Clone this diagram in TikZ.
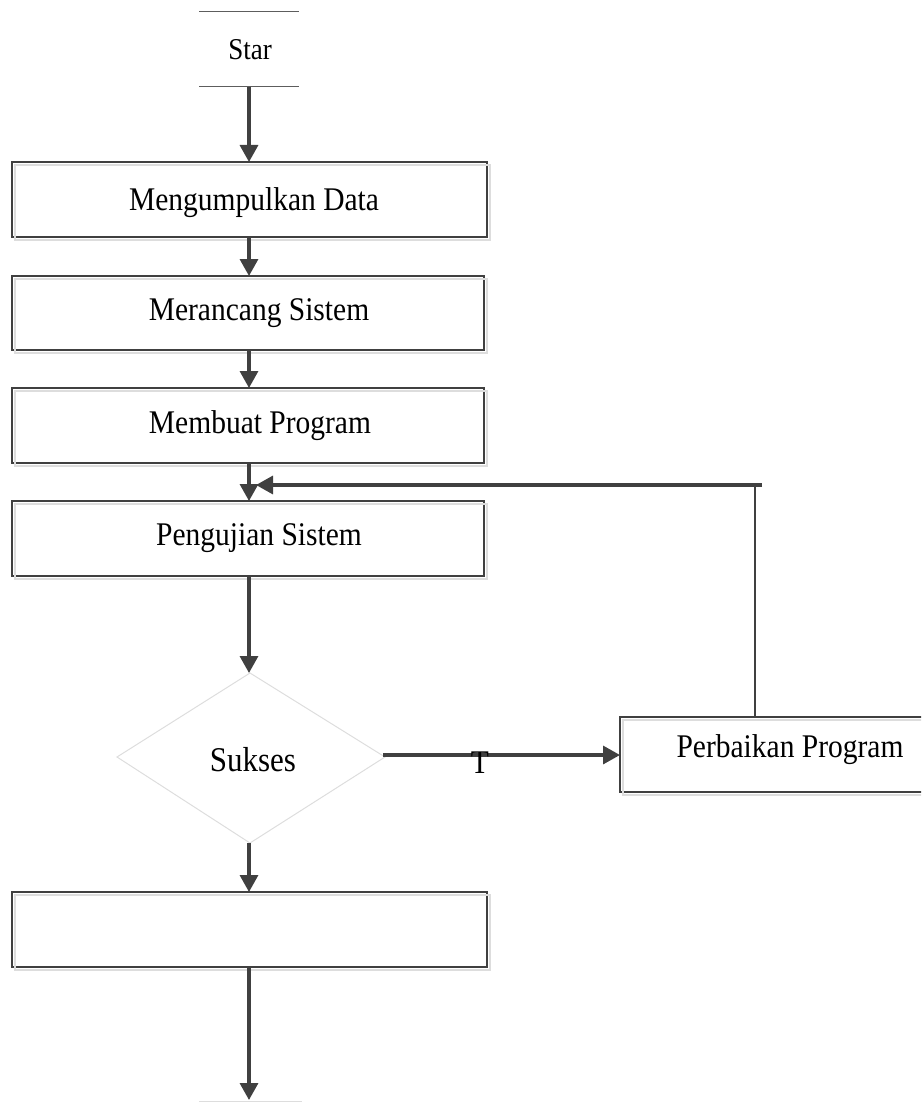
\documentclass[tikz,border=0pt]{standalone}
\usepackage{fontspec}
\setmainfont{Liberation Serif}
\usetikzlibrary{arrows.meta,calc}
\definecolor{ln}{HTML}{404040}
\definecolor{sh}{HTML}{DDDDDD}
\newcommand{\tstr}[1]{\scalebox{1}[1.12]{#1}}
\tikzset{
  boxnode/.style={draw=ln,line width=1.6pt,rectangle,inner sep=0pt,outer sep=0pt},
  shline/.style={draw=sh,line width=1.3pt},
  txt/.style={font=\fontsize{29.5}{36}\selectfont,inner sep=0pt},
  flow/.style={draw=ln,line width=3.3pt,-{Triangle[length=17pt,width=18pt]}},
  thinln/.style={draw=ln,line width=1.6pt},
}
\begin{document}
\begin{tikzpicture}[x=1pt,y=-1pt]
\useasboundingbox (0,0) rectangle (921,1102);
\clip (0,0) rectangle (921,1102);
% start terminal
\coordinate (st1) at (199,11.7);
\coordinate (st2) at (299,11.7);
\coordinate (sb1) at (199,86.7);
\coordinate (sb2) at (299,86.7);
\draw[draw=ln!85,line width=1.5pt] (st1) -- (st2);
\draw[draw=ln!85,line width=1.5pt] (sb1) -- (sb2);
\node[txt,font=\fontsize{27}{32}\selectfont] (star) at (250,50) {\tstr{Star}};
\coordinate (starb) at (249,86.7);
% boxes
\node[boxnode,minimum width=475pt,minimum height=75pt] (b1) at (249.5,199.5) {};
\node[boxnode,minimum width=472pt,minimum height=74pt] (b2) at (248,313) {};
\node[boxnode,minimum width=472pt,minimum height=75pt] (b3) at (248,425.5) {};
\node[boxnode,minimum width=472pt,minimum height=75pt] (b4) at (248,538.5) {};
\node[boxnode,minimum width=475pt,minimum height=75pt] (b6) at (249.5,929.5) {};
\node[boxnode,minimum width=340pt,minimum height=75pt] (pb) at (790,754.5) {};
\foreach \b in {b1,b2,b3,b4,b6,pb}{
  \draw[shline] ($(\b.north west)+(3,3)$) rectangle ($(\b.south east)+(3,3)$);
}
\node[txt] (t1) at (254,203) {\tstr{Mengumpulkan Data}};
\node[txt] (t2) at (259,313) {\tstr{Merancang Sistem}};
\node[txt] (t3) at (260,425.5) {\tstr{Membuat Program}};
\node[txt] (t4) at (259,538.5) {\tstr{Pengujian Sistem}};
\node[txt] (t5) at (790,750) {\tstr{Perbaikan Program}};
% diamond
\coordinate (dT) at (250,673);
\coordinate (dR) at (385,757);
\coordinate (dB) at (250,843);
\coordinate (dL) at (117,757);
\draw[draw=sh,line width=1pt] (dT) -- (dR) -- (dB) -- (dL) -- cycle;
\node[txt,font=\fontsize{31}{36}\selectfont] (suk) at (253,760) {\tstr{Sukses}};
% connectors
\path[flow] (starb) -- (b1.north -| starb);
\path[flow] (b1.south -| starb) -- (b2.north -| starb);
\path[flow] (b2.south -| starb) -- (b3.north -| starb);
\path[flow] (b3.south -| starb) -- (b4.north -| starb);
\path[flow] (b4.south -| starb) -- (dT -| starb);
\path[flow] (dB -| starb) -- (b6.north -| starb);
\coordinate (endc) at (249,1100);
\path[flow] (b6.south -| starb) -- (endc);
\draw[draw=sh,line width=1.2pt] (199,1101.5) -- (302,1101.5);
% no branch
\coordinate (dRr) at (383,755);
\path[flow] (dRr) -- (pb.west |- dRr);
\node[txt] (tlab) at (480,763) {\tstr{T}};
% feedback loop
\coordinate (fbtop) at (755,485);
\coordinate (fbend) at (762,485);
\coordinate (fbtip) at (256,485);
\draw[thinln] (pb.north -| fbtop) -- (fbtop);
\path[flow] (fbend) -- (fbtip);
\end{tikzpicture}
\end{document}
